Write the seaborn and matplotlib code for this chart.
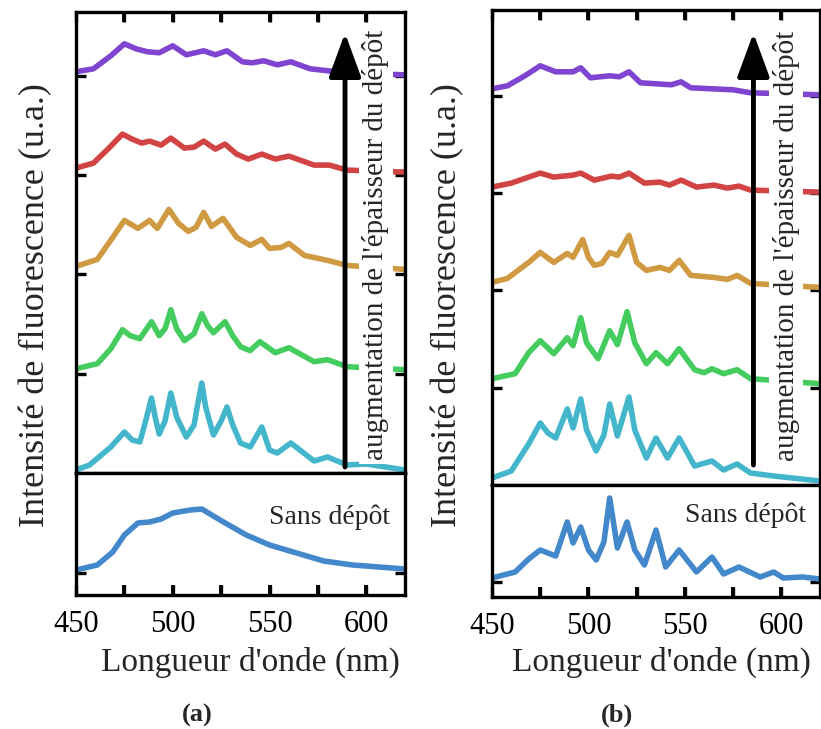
import numpy as np
import matplotlib
matplotlib.use("Agg")
import matplotlib.pyplot as plt
import seaborn as sns

# ---------------- data (intensities in arbitrary units above each baseline) ----------------
# Panel (a)
a_purple_wl = [450, 459, 468, 475, 481, 487, 493, 500, 507, 516, 522, 528, 536, 541, 547, 554, 561, 571, 585, 600, 620]
a_purple = [4, 7, 20, 32, 27, 24, 23, 30, 21, 25, 21, 25, 14, 13, 15, 11, 14, 7, 4, 2, 1]

a_red_wl = [450, 459, 467, 474, 479, 484, 488, 494, 499, 506, 511, 516, 522, 527, 533, 539, 546, 553, 560, 573, 581, 590, 620]
a_red = [7, 12, 27, 41, 36, 32, 34, 30, 37, 27, 28, 34, 26, 31, 21, 16, 21, 16, 19, 10, 10, 5, 3]

a_orange_wl = [450, 461, 469, 475, 482, 488, 492, 498, 503, 508, 512, 516, 520, 526, 533, 540, 546, 550, 556, 560, 568, 580, 590, 620]
a_orange = [8, 15, 37, 54, 46, 54, 46, 65, 51, 43, 47, 62, 48, 56, 37, 29, 35, 26, 27, 31, 19, 14, 9, 5]

a_green_wl = [450, 461, 468, 474, 478, 483, 489, 493, 496, 499, 502, 506, 511, 515, 518, 521, 527, 531, 535, 540, 545, 553, 560, 573, 580, 590, 620]
a_green = [5, 10, 25, 44, 38, 35, 52, 38, 45, 64, 45, 33, 40, 60, 48, 41, 52, 38, 27, 23, 32, 21, 26, 12, 14, 7, 4]

a_cyan_wl = [450, 457, 468, 475, 479, 483, 486, 489, 491, 493, 496, 499, 502, 507, 511, 513, 515, 517, 521, 525, 528, 531, 535, 540, 546, 550, 554, 561, 573, 580, 590, 600, 620]
a_cyan = [3, 8, 26, 41, 33, 31, 52, 75, 55, 39, 52, 80, 56, 36, 48, 70, 90, 66, 38, 52, 66, 48, 30, 26, 46, 23, 20, 30, 12, 16, 8, 9, 3]

a_ref_wl = [450, 461, 469, 475, 482, 488, 494, 500, 509, 515, 521, 528, 538, 550, 564, 578, 593, 620]
a_ref = [3, 8, 21, 38, 50, 51, 54, 60, 63, 64, 57, 49, 38, 28, 20, 12, 8, 4]

# Panel (b)
b_purple_wl = [450, 458, 467, 475, 483, 492, 496, 501, 511, 516, 521, 527, 543, 548, 553, 575, 584, 620]
b_purple = [7, 10, 20, 30, 24, 24, 28, 18, 20, 19, 24, 13, 11, 14, 8, 6, 3, 1]

b_red_wl = [450, 460, 475, 482, 492, 496, 503, 512, 516, 521, 529, 537, 542, 548, 556, 565, 572, 578, 584, 620]
b_red = [6, 10, 20, 16, 18, 20, 13, 17, 16, 20, 10, 11, 8, 13, 6, 8, 5, 7, 3, 1]

b_orange_wl = [450, 458, 469, 475, 482, 489, 492, 497, 500, 503, 507, 511, 515, 521, 525, 530, 537, 542, 547, 553, 565, 572, 577, 584, 620]
b_orange = [8, 12, 28, 38, 28, 37, 33, 51, 33, 25, 27, 38, 35, 55, 28, 20, 23, 20, 30, 15, 13, 11, 15, 7, 3]

b_green_wl = [450, 462, 469, 475, 482, 489, 492, 496, 499, 505, 511, 515, 520, 524, 530, 535, 541, 547, 555, 560, 564, 570, 577, 584, 620]
b_green = [9, 14, 35, 47, 34, 50, 42, 70, 45, 29, 57, 43, 76, 45, 24, 35, 24, 39, 18, 15, 19, 14, 18, 9, 4]

b_cyan_wl = [450, 460, 469, 475, 479, 483, 489, 492, 496, 499, 504, 508, 511, 515, 521, 524, 530, 535, 541, 547, 555, 564, 570, 577, 584, 596, 620]
b_cyan = [7, 14, 41, 62, 52, 47, 76, 57, 86, 55, 34, 50, 81, 49, 88, 55, 27, 47, 27, 47, 19, 24, 15, 21, 12, 9, 4]

b_ref_wl = [450, 462, 469, 475, 483, 489, 492, 496, 500, 504, 508, 511, 515, 520, 524, 529, 535, 540, 547, 556, 564, 570, 578, 589, 596, 601, 611, 620]
b_ref = [4, 10, 23, 32, 26, 60, 39, 55, 32, 22, 40, 84, 34, 60, 32, 17, 52, 15, 32, 10, 25, 8, 15, 5, 10, 4, 5, 3]

xticks_major = [450, 500, 550, 600]
xticks_minor = [475, 525, 575]
colors = ["#44b6cc", "#44cc5e", "#d09a42", "#d24444", "#7f44d0"]   # bottom -> top
ref_color = "#4488cc"

ylabel = "Intensité de fluorescence (u.a.)"
xlabel = "Longueur d'onde (nm)"
arrow_label = "augmentation de l'épaisseur du dépôt"
ref_label = "Sans dépôt"

# ---------------- style ----------------
sns.set_style("ticks")
LW_SP = 2.4
plt.rcParams.update({
    "font.family": ["Liberation Serif", "DejaVu Serif"],
    "xtick.direction": "in", "ytick.direction": "in",
    "xtick.major.size": 7, "xtick.minor.size": 7,
    "ytick.major.size": 7, "ytick.minor.size": 7,
    "xtick.major.width": LW_SP, "xtick.minor.width": LW_SP,
    "ytick.major.width": LW_SP, "ytick.minor.width": LW_SP,
    "xtick.color": "black", "ytick.color": "black",
    "axes.edgecolor": "black", "axes.linewidth": LW_SP,
})

fig = plt.figure(figsize=(8.21, 7.29), dpi=100)
W, H = 821.0, 729.0
TICK_PX = 10.0
LINE = 4.0


def ax_px(l, t, r, b):
    return fig.add_axes([l / W, 1 - b / H, (r - l) / W, (b - t) / H]), (b - t)


def style(ax, h_px, ticks_y, top=True):
    for s in ax.spines.values():
        s.set_linewidth(LW_SP)
        s.set_color("black")
        s.set_visible(True)
    ax.set_xlim(450, 620)
    ax.set_xlabel("")
    ax.set_ylabel("")
    ax.yaxis.set_ticks_position("both")
    ax.set_yticks(ticks_y)
    ax.set_yticklabels([])
    ax.set_xticks(xticks_major)
    ax.set_xticks(xticks_minor, minor=True)
    if top:
        ax.xaxis.set_ticks_position("top")
        ax.tick_params(axis="x", which="both", labeltop=False, labelbottom=False)
    else:
        ax.xaxis.set_ticks_position("bottom")
        ax.set_xticklabels([str(v) for v in xticks_major])
        ax.tick_params(axis="x", which="major", labelsize=22, pad=11)
    ax.tick_params(axis="both", which="both", direction="in", length=7, width=LW_SP, color="black")
    # inward x tick marks drawn along the spine as well
    f = TICK_PX / h_px
    pos = sorted(xticks_major[1:] + xticks_minor)
    if top:
        ax.vlines(pos, 1 - f, 1, transform=ax.get_xaxis_transform(), colors="black",
                  linewidth=LW_SP + 0.4, zorder=10, clip_on=False)
    else:
        ax.vlines(pos, 0, f, transform=ax.get_xaxis_transform(), colors="black",
                  linewidth=LW_SP + 0.4, zorder=10, clip_on=False)


def panel(axt, ht, axb, hb, series, ref, step, ylim_t, ylim_b, arrow_x, arrow_y, text_x, text_y, ref_x, ref_y):
    for k, (wl, val) in enumerate(series):
        yv = [v + k * step for v in val]
        sns.lineplot(x=wl, y=yv, ax=axt, color=colors[k], linewidth=LINE, estimator=None, sort=False,
                     legend=False, solid_joinstyle="round", solid_capstyle="round", zorder=2)
    sns.lineplot(x=ref[0], y=ref[1], ax=axb, color=ref_color, linewidth=LINE, estimator=None, sort=False,
                 legend=False, solid_joinstyle="round", solid_capstyle="round", zorder=2)
    for a in (axt, axb):
        for ln in a.get_lines():
            ln.set_linewidth(LINE)
    axt.set_ylim(*ylim_t)
    axb.set_ylim(*ylim_b)
    style(axt, ht, [step * k for k in range(1, 5)], top=True)
    style(axb, hb, [0], top=False)
    axt.text(text_x, text_y, arrow_label, rotation=90, ha="center", va="center", fontsize=21,
             bbox=dict(facecolor="white", edgecolor="none", pad=2.5), zorder=5)
    axt.annotate("", xy=(arrow_x, arrow_y[1]), xytext=(arrow_x, arrow_y[0]),
                 arrowprops=dict(arrowstyle="-|>,head_length=1.5,head_width=0.55", lw=3.5,
                                 color="black", mutation_scale=18, shrinkA=0, shrinkB=0),
                 zorder=6, annotation_clip=False)
    axb.text(ref_x, ref_y, ref_label, ha="right", va="center", fontsize=20, zorder=5)


# Panel (a)
axa_t, ha_t = ax_px(76, 12, 405, 473)
axa_b, ha_b = ax_px(76, 473, 405, 595)
panel(axa_t, ha_t, axa_b, ha_b,
      [(a_cyan_wl, a_cyan), (a_green_wl, a_green), (a_orange_wl, a_orange),
       (a_red_wl, a_red), (a_purple_wl, a_purple)],
      (a_ref_wl, a_ref), 99.3, (0, 461), (-22, 100),
      589, (6, 440), 605, 228, 612.5, 56)

# Panel (b)
axb_t, hb_t = ax_px(492, 10, 820, 485)
axb_b, hb_b = ax_px(492, 485, 820, 597)
panel(axb_t, hb_t, axb_b, hb_b,
      [(b_cyan_wl, b_cyan), (b_green_wl, b_green), (b_orange_wl, b_orange),
       (b_red_wl, b_red), (b_purple_wl, b_purple)],
      (b_ref_wl, b_ref), 97.3, (0, 475), (-15, 97),
      585.5, (20, 452), 602.5, 239, 613, 67)

# labels
for xc in (36, 448):
    fig.text(xc / W, 1 - 305 / H, ylabel, rotation=90, ha="center", va="center", fontsize=26)
for xc in (250, 661):
    fig.text(xc / W, 1 - 662 / H, xlabel, ha="center", va="center", fontsize=24)
fig.text(197 / W, 1 - 715 / H, "(a)", ha="center", va="center", fontsize=19, fontweight="bold")
fig.text(617 / W, 1 - 715 / H, "(b)", ha="center", va="center", fontsize=19, fontweight="bold")

fig.savefig("out.png", dpi=100)
